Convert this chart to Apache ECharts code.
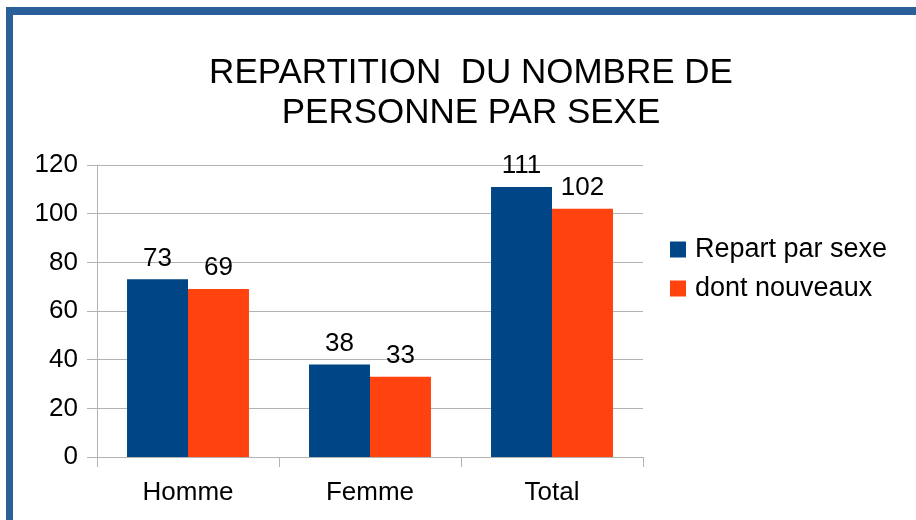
<!DOCTYPE html>
<html>
<head>
<meta charset="utf-8">
<script src="https://cdn.jsdelivr.net/npm/echarts@6/dist/echarts.min.js"></script>
<style>
  html, body { margin: 0; padding: 0; background: #fff; }
  #chart { position: absolute; left: 0; top: 0; width: 916px; height: 520px; }
  #frame {
    position: absolute; left: 6px; top: 7px; width: 920px; height: 510px;
    border-left: 7px solid #2a6099; border-top: 8px solid #2a6099;
    border-bottom: 2px solid #c0c8d0; pointer-events: none;
  }
</style>
</head>
<body>
<div id="chart"></div>
<div id="frame"></div>
<script>
// données du graphique
var categories = ['Homme', 'Femme', 'Total'];
var repartParSexe = [73, 38, 111];
var dontNouveaux = [69, 33, 102];
var seriesNames = ['Repart par sexe', 'dont nouveaux'];

var chart = echarts.init(document.getElementById('chart'));
var font = 'Liberation Sans';

var option = {
  animation: false,
  color: ['#004586', '#ff420e'],
  title: {
    text: 'REPARTITION  DU NOMBRE DE\nPERSONNE PAR SEXE',
    left: 466,
    top: 48,
    textAlign: 'center',
    textStyle: { fontFamily: font, fontSize: 35, fontWeight: 'normal', color: '#000', lineHeight: 40 }
  },
  legend: {
    orient: 'vertical',
    left: 665,
    top: 231,
    itemWidth: 16,
    itemHeight: 16,
    itemGap: 12,
    icon: 'rect',
    data: seriesNames,
    textStyle: { fontFamily: font, fontSize: 27, color: '#000', padding: [0, 0, 0, 4] }
  },
  grid: { left: 97, right: 273, top: 165, bottom: 63 },
  xAxis: {
    type: 'category',
    data: categories,
    axisLine: { lineStyle: { color: '#b3b3b3' } },
    axisTick: { show: true, length: 10, lineStyle: { color: '#b3b3b3' } },
    axisLabel: { fontFamily: font, fontSize: 26, color: '#000', margin: 23 }
  },
  yAxis: {
    type: 'value',
    min: 0,
    max: 120,
    interval: 20,
    axisLine: { show: true, lineStyle: { color: '#b3b3b3' } },
    axisTick: { show: true, length: 10, lineStyle: { color: '#b3b3b3' } },
    splitLine: { lineStyle: { color: '#b3b3b3' } },
    axisLabel: { fontFamily: font, fontSize: 26, color: '#000', margin: 19 }
  },
  series: [
    {
      name: seriesNames[0],
      type: 'bar',
      data: repartParSexe,
      barGap: '0%',
      barCategoryGap: '33%',
      label: { show: true, position: 'top', distance: 8, fontFamily: font, fontSize: 26, color: '#000' }
    },
    {
      name: seriesNames[1],
      type: 'bar',
      data: dontNouveaux,
      barGap: '0%',
      barCategoryGap: '33%',
      label: { show: true, position: 'top', distance: 8, fontFamily: font, fontSize: 26, color: '#000' }
    }
  ]
};

chart.setOption(option);
</script>
</body>
</html>
